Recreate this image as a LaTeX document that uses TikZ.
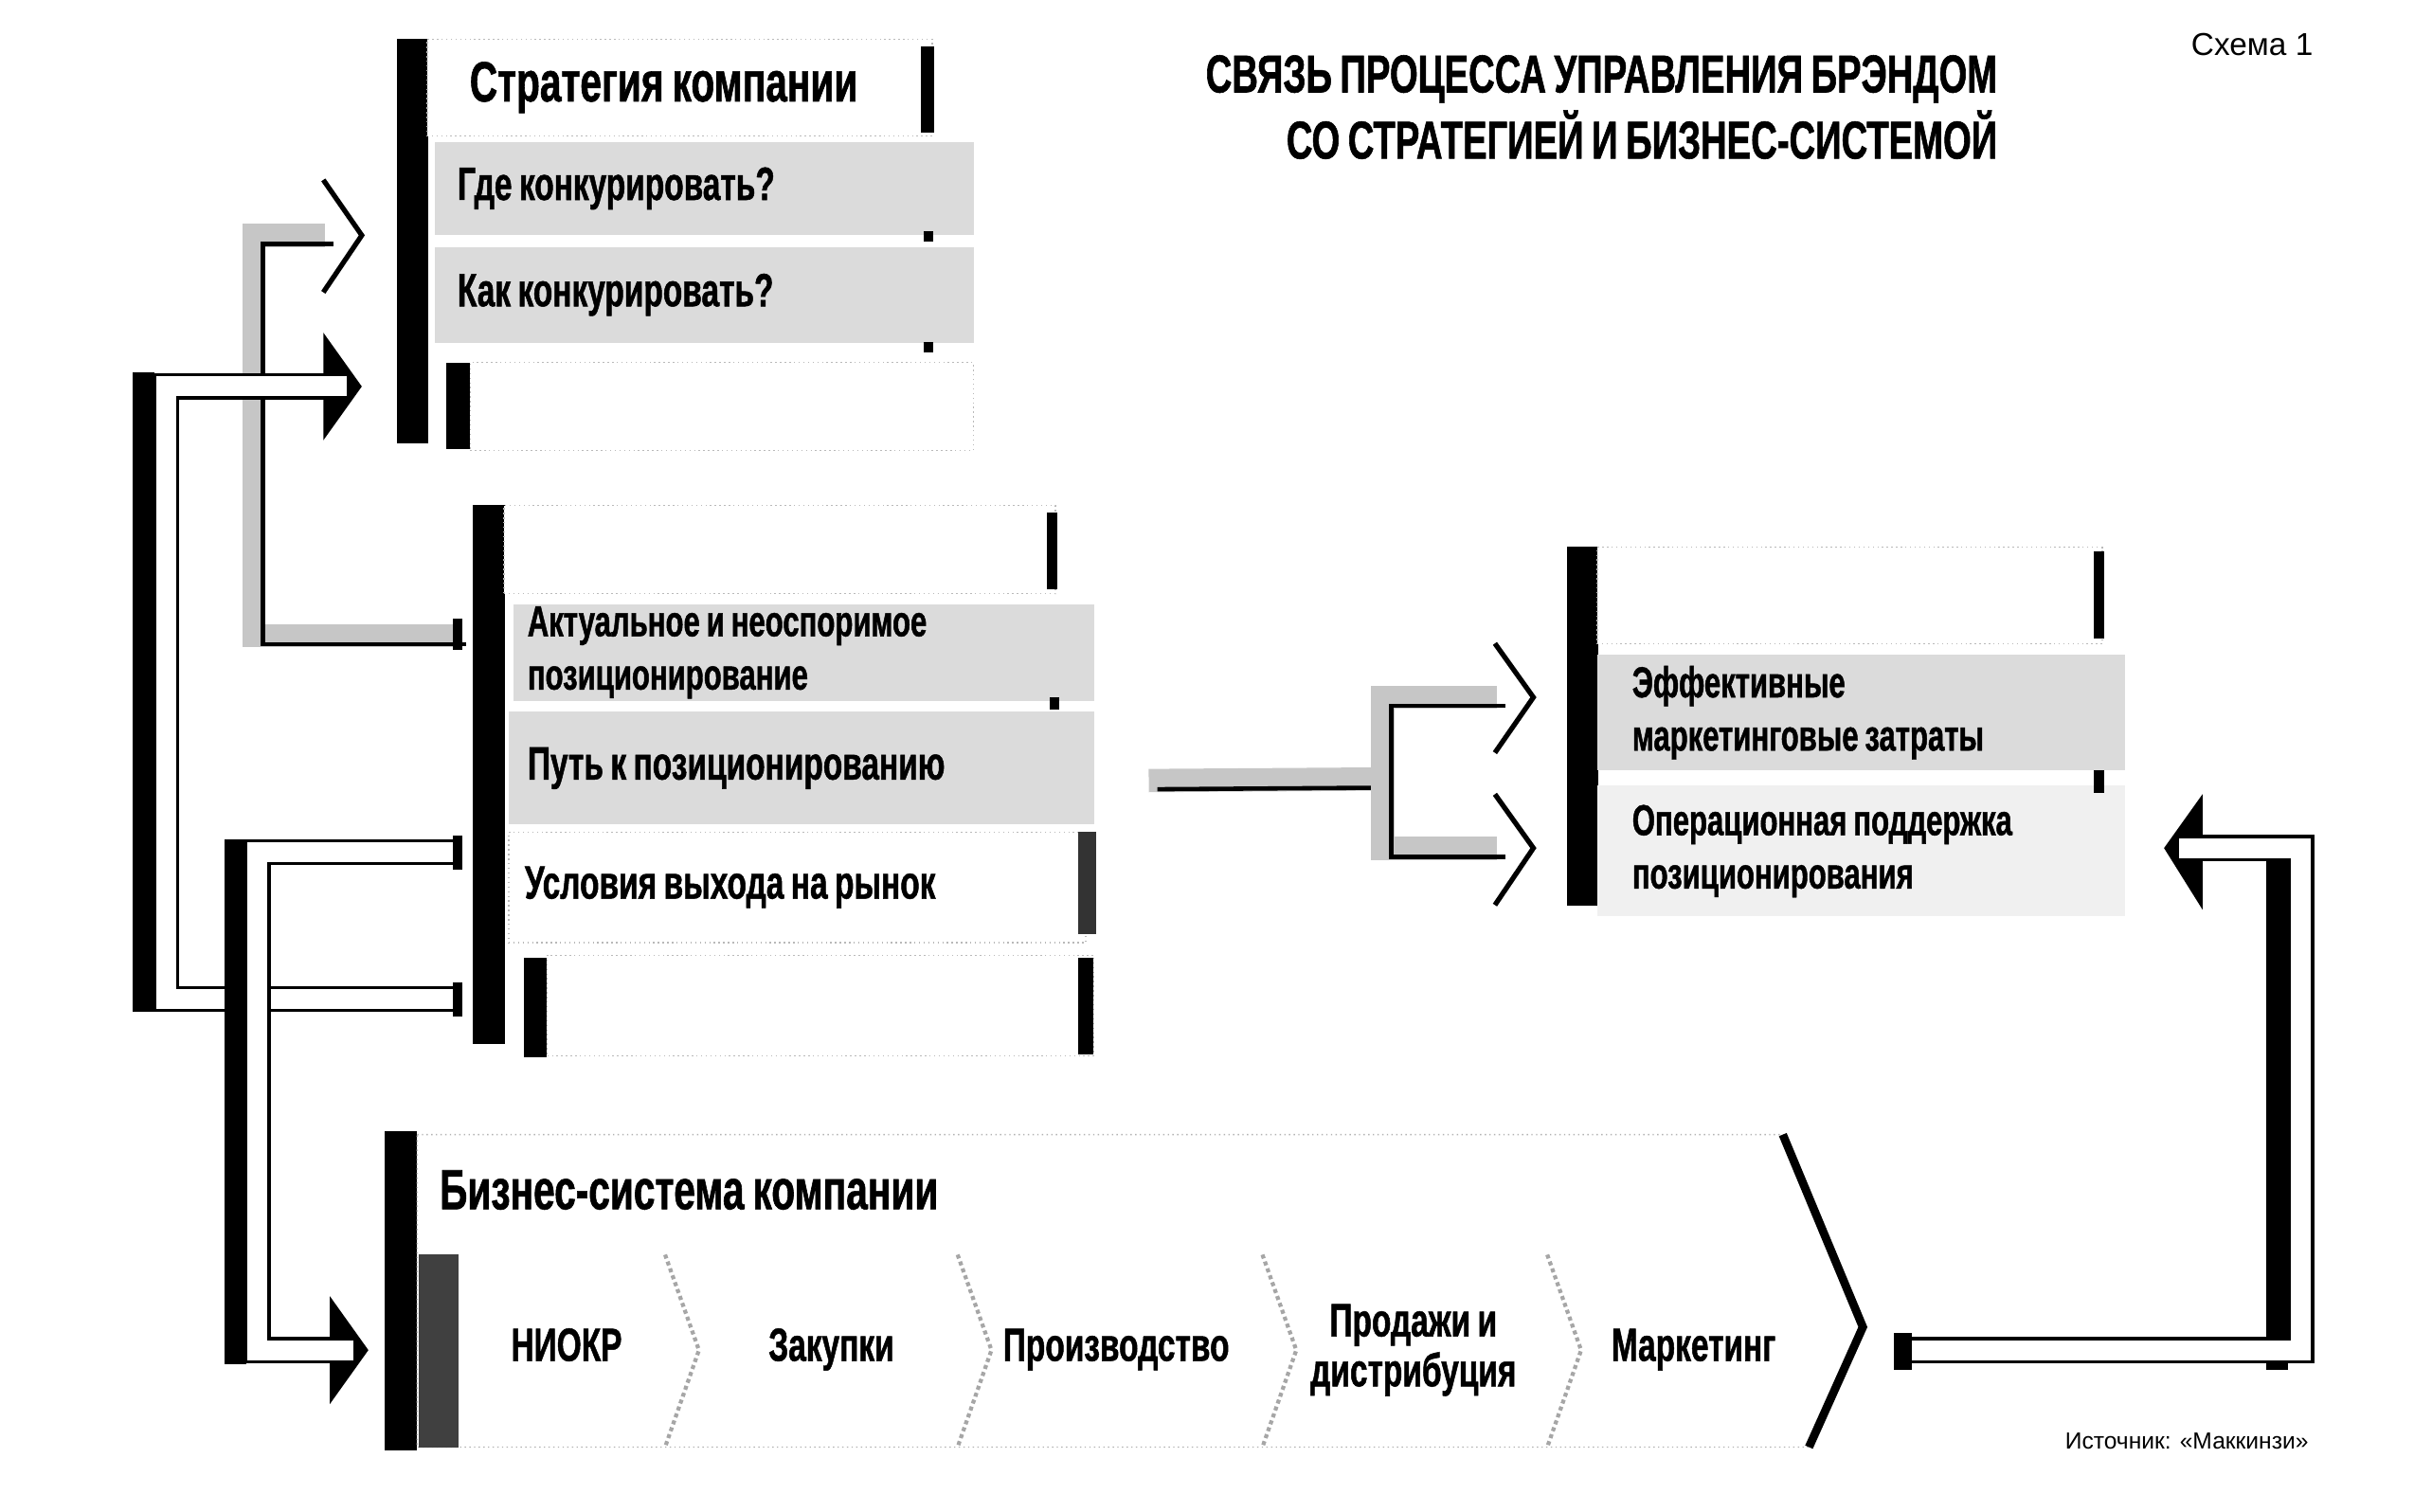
\documentclass[tikz,border=0pt]{standalone}
\usepackage{fontspec}
\setmainfont{Liberation Sans}
\newfontfamily\heavy{Liberation Sans Bold}[FakeStretch=0.68, WordSpace=0.8, FakeBold=1]
\usetikzlibrary{calc}

\begin{document}
\begin{tikzpicture}[x=0.01625cm, y=-0.01625cm,
    row/.style={anchor=north west, inner ysep=0pt, align=flush left},
    blank/.style={row, fill=white, draw=gray!55, densely dotted},
    light/.style={row, fill=gray!28},
    pale/.style={row, fill=gray!12},
    big/.style={font=\heavy\fontsize{17}{19}\selectfont},
    mid/.style={font=\heavy\fontsize{14}{16}\selectfont},
    small/.style={font=\heavy\fontsize{13}{16}\selectfont},
    gpipe/.style={draw=gray!45, line width=7pt,
        postaction={draw=black, line width=1.3pt, transform canvas={xshift=2.6pt, yshift=-2.6pt}}},
    bpipe/.style={draw=black, line width=0.9pt, double=white, double distance=6pt},
    head/.style={line width=1.5pt, line join=miter},
]
\useasboundingbox (0,0) rectangle (1568,982);

% Title and captions
\node[anchor=base east, font=\heavy\fontsize{16}{19}\selectfont] (title1) at (1305,60) {СВЯЗЬ ПРОЦЕССА УПРАВЛЕНИЯ БРЭНДОМ};
\node[anchor=base east, font=\heavy\fontsize{16}{19}\selectfont] (title2) at (1305,103) {СО СТРАТЕГИЕЙ И БИЗНЕС-СИСТЕМОЙ};
\node[anchor=base east, font=\fontsize{9.5}{11}\selectfont] (schema) at (1510,36) {Схема 1};
\node[anchor=base east, font=\fontsize{7}{8}\selectfont] (source) at (1507,941) {Источник: «Маккинзи»};

% Strategy box
\fill (258,25) rectangle (278,288);
\node[blank, big, minimum width=5.33cm, minimum height=1.02cm, inner xsep=0.45cm, text width=4.43cm] (s1) at (277,25) {Стратегия компании};
\node[light, mid, minimum width=5.69cm, minimum height=0.975cm, inner xsep=0.24cm, text width=5.21cm] (s2) at (282,92) {Где конкурировать?};
\node[light, mid, minimum width=5.69cm, minimum height=1.01cm, inner xsep=0.24cm, text width=5.21cm] (s3) at (282,160) {Как конкурировать?};
\node[blank, minimum width=5.31cm, minimum height=0.93cm, inner xsep=0.25cm, text width=4.81cm] (s4) at (305,235) {};
\fill (290,236) rectangle (305,292);
\fill (598,30) rectangle (607,86);
\fill (600,150) rectangle (606,157);
\fill (600,222) rectangle (606,229);

% Positioning box
\fill (307,328) rectangle (328,678);
\node[blank, minimum width=5.82cm, minimum height=0.93cm, inner xsep=0.25cm, text width=5.32cm] (p1) at (327,328) {};
\node[light, small, minimum width=6.13cm, minimum height=1.02cm, inner xsep=0.15cm, text width=5.83cm] (p2) at (333,392) {Актуальное и неоспоримое\\позиционирование};
\node[light, mid, minimum width=6.18cm, minimum height=1.19cm, inner xsep=0.2cm, text width=5.78cm] (p3) at (330,462) {Путь к позиционированию};
\node[blank, mid, minimum width=6.09cm, minimum height=1.17cm, inner xsep=0.17cm, text width=5.75cm] (p4) at (330,540) {Условия выхода на рынок};
\node[blank, minimum width=5.77cm, minimum height=1.06cm, inner xsep=0.25cm, text width=5.27cm] (p5) at (355,620) {};
\fill (340,622) rectangle (355,687);
\fill (680,333) rectangle (687,383);
\fill (682,453) rectangle (688,461);
\fill[black!80] (700,540) rectangle (712,607);
\fill (700,622) rectangle (710,685);

% Brand box on the right
\fill (1018,355) rectangle (1038,588);
\node[blank, minimum width=5.33cm, minimum height=1.02cm, inner xsep=0.25cm, text width=4.83cm] (e1) at (1037,355) {};
\node[light, small, minimum width=5.57cm, minimum height=1.22cm, inner xsep=0.37cm, text width=4.83cm] (e2) at (1037,425) {Эффективные\\маркетинговые затраты};
\node[pale, small, minimum width=5.57cm, minimum height=1.38cm, inner xsep=0.37cm, text width=4.83cm] (e3) at (1037,510) {Операционная поддержка\\позиционирования};
\fill (1360,358) rectangle (1367,415);
\fill (1360,500) rectangle (1367,515);

% Business system: arrow shaped panel
\fill (250,735) rectangle (271,942);
\filldraw[fill=white, draw=gray!60, densely dotted] (271,737) -- (1158,737) -- (1210,862) -- (1175,940) -- (271,940) -- cycle;
\draw[line width=2.5pt] (1158,737) -- (1210,862) -- (1175,940);
\node[minimum width=14.7cm, minimum height=3.33cm] (bus) at (722,837) {};
\node[anchor=west, big] (bustitle) at (278,773) {Бизнес-система компании};

% Chain of functions
\fill[black!75] (272,815) rectangle (298,940);
\foreach \cx in {432,622,820,1005}
    \draw[gray!70, densely dotted, line width=1.2pt] (\cx,815) -- (\cx+22,877) -- (\cx,940);
\node[mid, anchor=base] (ch1) at (368,884) {НИОКР};
\node[mid, anchor=base] (ch2) at (540,884) {Закупки};
\node[mid, anchor=base] (ch3) at (725,884) {Производство};
\node[align=center, font=\heavy\fontsize{14}{15}\selectfont] (ch4) at (918,877) {Продажи и\\дистрибуция};
\node[mid, anchor=base] (ch5) at (1100,884) {Маркетинг};

% Arrow tips
\coordinate (tipC) at ($(s2.south west)+(-47,0)$);
\coordinate (tipA) at ($(s4.west)+(-70,-13)$);
\coordinate (tipB) at ($(bus.west)+(-30,40)$);
\coordinate (tipD1) at ($(e2.west)+(-41,-10)$);
\coordinate (tipD2) at ($(e3.west)+(-41,-2)$);
\coordinate (tipF) at ($(e3.east)+(25,-2)$);
\coordinate (fork) at (898,506);

% Positioning feeds back into strategy (grey)
\draw[gpipe] ($(p2.west)+(-36,-11)$) -| ($(tipC)+(-70,0)$) -- ($(tipC)+(-24,0)$);
\draw[head] ($(tipC)+(-25,-36)$) -- (tipC) -- ($(tipC)+(-25,37)$);

% Lower rows of positioning into strategy and business system (black)
\fill ($(tipA)+(-25,-35)$) -- (tipA) -- ($(tipA)+(-25,35)$) -- cycle;
\fill (86,242) rectangle (100,657);
\draw[bpipe] ($(p5.west)+(-55,-4)$) -| ($(tipA)+(-127,0)$) -- ($(tipA)+(-10,0)$);

\fill ($(tipB)+(-25,-35)$) -- (tipB) -- ($(tipB)+(-25,35)$) -- cycle;
\fill (146,545) rectangle (160,886);
\draw[bpipe] ($(p4.west)+(-30,-23)$) -| ($(tipB)+(-72,0)$) -- ($(tipB)+(-10,0)$);

% Path to positioning feeds the brand box (grey)
\draw[gpipe] ($(p3.east)+(35,8)$) -- (fork);
\draw[gpipe] ($(tipD1)+(-24,0)$) -| (fork |- tipD2) -- ($(tipD2)+(-24,0)$);
\draw[head] ($(tipD1)+(-25,-35)$) -- (tipD1) -- ($(tipD1)+(-25,36)$);
\draw[head] ($(tipD2)+(-25,-35)$) -- (tipD2) -- ($(tipD2)+(-25,37)$);

% Business system back into operational support
\fill ($(tipF)+(25,-35)$) -- (tipF) -- ($(tipF)+(25,40)$) -- cycle;
\fill (1472,545) rectangle (1486,890);
\draw[bpipe] ($(bus.east)+(61,40)$) -| ($(tipF)+(89,0)$) -- ($(tipF)+(10,0)$);
\fill (1230,866) rectangle (1242,890);

% pipe ends
\fill (294,402) rectangle (300,422);
\fill (294,543) rectangle (300,565);
\fill (294,638) rectangle (300,660);
\end{tikzpicture}
\end{document}
